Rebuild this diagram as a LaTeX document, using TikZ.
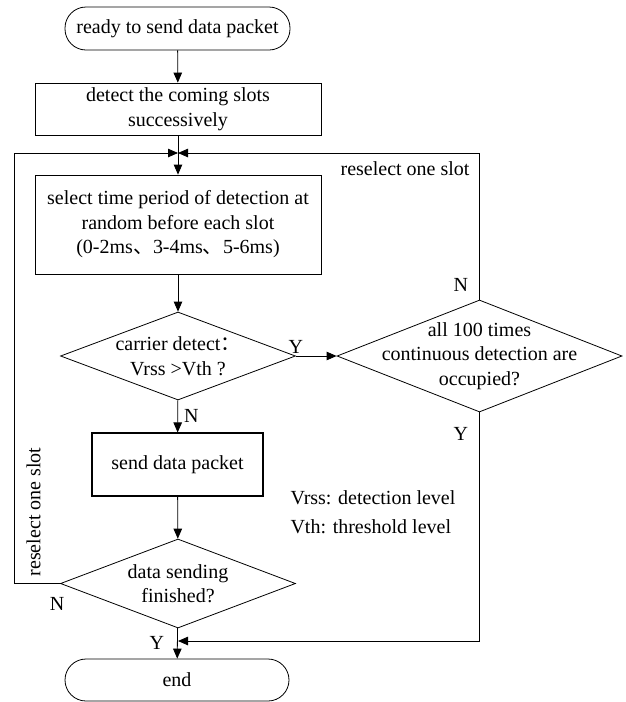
\documentclass[tikz,border=0pt]{standalone}
\usepackage{fontspec}
\setmainfont{Liberation Serif}
\newfontfamily\cjk{Noto Sans CJK SC}
\usetikzlibrary{shapes.geometric,arrows.meta,positioning}

\tikzset{
  flow/.style={draw, line width=0.8pt, -{Triangle[length=10pt,width=8.5pt]}},
  term/.style={rectangle, draw, line width=0.8pt, rounded corners=21pt, minimum width=225pt, minimum height=43pt, inner sep=0pt},
  procbox/.style={rectangle, draw, line width=0.8pt, align=center, inner sep=0pt},
  decide/.style={diamond, draw, line width=0.8pt, inner sep=0pt},
  yn/.style={inner sep=0pt}
}

\begin{document}
\begin{tikzpicture}[x=1pt,y=-1pt,font=\fontsize{20}{24.5}\selectfont]
  \useasboundingbox (0,0) rectangle (626,702);

  % main column
  \node[term] (start) at (177.5,28.5) {ready to send data packet};
  \node[procbox, minimum width=286pt, minimum height=52pt] (detect) at (178,109) {detect the coming slots\\successively};
  \coordinate (merge) at (178,153);
  \node[procbox, minimum width=286pt, minimum height=99pt] (select) at (178,224.5)
    {select time period of detection at\\random before each slot\\(0-2ms{\cjk 、}3-4ms{\cjk 、}5-6ms)};
  \node[decide, minimum width=235pt, minimum height=88pt] (carrier) at (178,356) {};
  \node[align=center] (carriertext) at (carrier) {carrier detect{\cjk ：}\\Vrss >Vth ?};
  \node[procbox, line width=1.1pt, minimum width=171pt, minimum height=63pt] (send) at (177.5,464.5) {send data packet};
  \node[decide, minimum width=235pt, minimum height=89pt] (finished) at (178,583.5) {};
  \node[align=center] (finishedtext) at (finished) {data sending\\finished?};
  \node[term, minimum width=224pt, minimum height=42pt] (stop) at (177,680) {end};
  \coordinate (join) at (178,641);

  % right branch
  \node[decide, minimum width=285pt, minimum height=112pt] (occupied) at (479.5,356) {};
  \node[align=center] (occupiedtext) at (occupied) {all 100 times\\continuous detection are\\occupied?};

  % notes
  \node[anchor=east] (reselect) at (473,169) {reselect one slot};
  \node[rotate=90] (reselectleft) at (33.5,512) {reselect one slot};
  \node[anchor=west] (vrss) at (287,498) {Vrss: detection level};
  \node[anchor=west] (vth) at (287,527) {Vth: threshold level};

  % connectors
  \draw[flow] (start) -- (detect);
  \draw[flow] (detect) -- (select);
  \draw[flow] (select) -- (carrier);
  \draw[flow] (carrier.east) -- node[pos=0, above, inner sep=2pt]{Y} (occupied.west);
  \draw[flow] (carrier) -- node[right, inner sep=6pt]{N} (send);
  \draw[flow] (occupied.north) -- node[pos=0, anchor=south east, yn, xshift=-11pt, yshift=8pt]{N} (occupied.north |- merge) -- (merge);
  \draw[flow] (send) -- (finished);
  \draw[flow] (finished.west) -- node[pos=0, anchor=north, yn, xshift=-3pt, yshift=-13.5pt]{N} ++(-46,0) |- (merge);
  \draw[flow] (finished) -- node[left, yn, xshift=-13pt]{Y} (stop);
  \draw[flow] (occupied.south) -- node[pos=0, anchor=north east, yn, xshift=-11pt, yshift=-14.5pt]{Y} (occupied.south |- join) -- (join);
\end{tikzpicture}
\end{document}
